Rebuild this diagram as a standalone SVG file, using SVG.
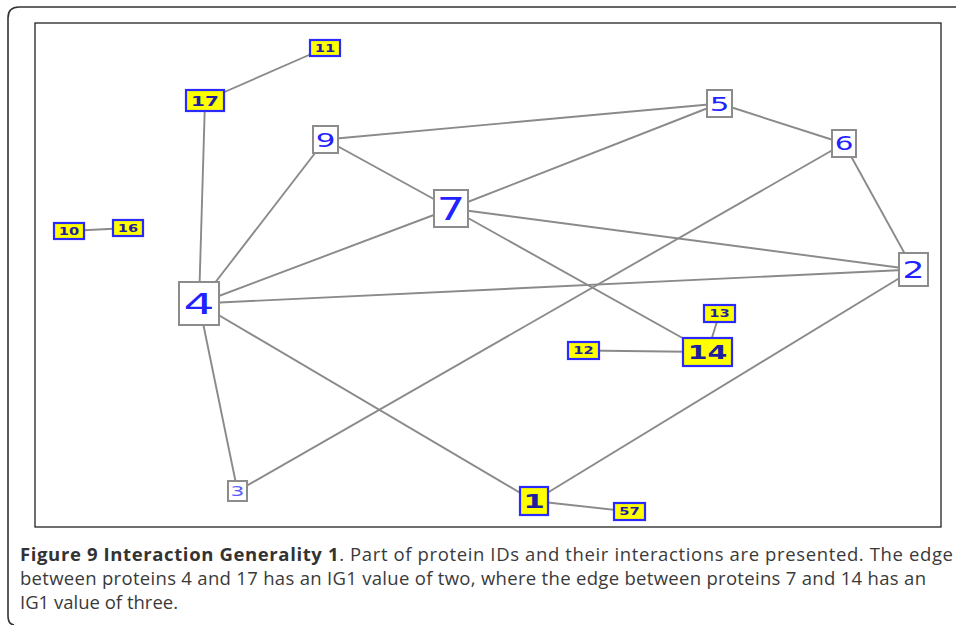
<svg xmlns="http://www.w3.org/2000/svg" width="956" height="625" viewBox="0 0 956 625">
<style>
.frame{fill:none;stroke:#333;stroke-width:1.6}
.inner{fill:#fff;stroke:#222;stroke-width:1.3}
.edge{stroke:#8a8a8a;stroke-width:1.9;fill:none}
.wn{fill:#fff;stroke:#8c8c8c;stroke-width:2}
.yn{fill:#ffff00;stroke:#2a2aff;stroke-width:2.2}
.wt{font-family:"DejaVu Sans",Verdana,sans-serif;fill:#2222ff;text-anchor:middle}
.yt{font-family:"DejaVu Sans",Verdana,sans-serif;font-weight:bold;fill:#1f1f9e;text-anchor:middle}
.cap{font-family:"Open Sans","Liberation Sans",sans-serif;font-size:18.5px;fill:#3a3a3a}
.capb{font-weight:bold;fill:#333}
</style>
<path class="frame" d="M14 625 Q8 624 8 616 V18 Q8 7 19 7 H956"/>
<rect class="inner" x="35" y="23" width="906" height="504"/>
<g id="connectors">
<line class="edge" x1="205" y1="100.5" x2="325" y2="48"/>
<line class="edge" x1="205" y1="100.5" x2="199" y2="303.5"/>
<line class="edge" x1="69" y1="231" x2="128" y2="228"/>
<line class="edge" x1="325.5" y1="139.5" x2="199" y2="303.5"/>
<line class="edge" x1="325.5" y1="139.5" x2="719.5" y2="103.5"/>
<line class="edge" x1="325.5" y1="139.5" x2="451" y2="208.5"/>
<line class="edge" x1="451" y1="208.5" x2="719.5" y2="103.5"/>
<line class="edge" x1="451" y1="208.5" x2="199" y2="303.5"/>
<line class="edge" x1="451" y1="208.5" x2="913.5" y2="269.5"/>
<line class="edge" x1="451" y1="208.5" x2="707.5" y2="352"/>
<line class="edge" x1="719.5" y1="103.5" x2="844" y2="143.5"/>
<line class="edge" x1="844" y1="143.5" x2="913.5" y2="269.5"/>
<line class="edge" x1="844" y1="143.5" x2="237.5" y2="491"/>
<line class="edge" x1="199" y1="303.5" x2="913.5" y2="269.5"/>
<line class="edge" x1="199" y1="303.5" x2="534" y2="501"/>
<line class="edge" x1="199" y1="303.5" x2="237.5" y2="491"/>
<line class="edge" x1="913.5" y1="269.5" x2="534" y2="501"/>
<line class="edge" x1="707.5" y1="352" x2="719.5" y2="313.5"/>
<line class="edge" x1="707.5" y1="352" x2="583.5" y2="350.5"/>
<line class="edge" x1="534" y1="501" x2="629.5" y2="511.5"/>
</g>
<g id="n11"><rect class="yn" x="310" y="40" width="30" height="16"/><text class="yt" font-size="10.5" transform="translate(325,51.8) scale(1.4,1)">11</text></g>
<g id="n17"><rect class="yn" x="186" y="90" width="38" height="21"/><text class="yt" font-size="14.6" transform="translate(205,105.8) scale(1.37,1)">17</text></g>
<g id="n10"><rect class="yn" x="54" y="223" width="30" height="16"/><text class="yt" font-size="10.5" transform="translate(69,234.8) scale(1.4,1)">10</text></g>
<g id="n16"><rect class="yn" x="113" y="220" width="30" height="16"/><text class="yt" font-size="10.5" transform="translate(128,231.8) scale(1.4,1)">16</text></g>
<g id="n9"><rect class="wn" x="313" y="126" width="25" height="27"/><text class="wt" font-size="20" transform="translate(325.5,146.8) scale(1.55,1)">9</text></g>
<g id="n5"><rect class="wn" x="707" y="90" width="25" height="27"/><text class="wt" font-size="20" transform="translate(719.5,110.8) scale(1.55,1)">5</text></g>
<g id="n6"><rect class="wn" x="832" y="130" width="24" height="27"/><text class="wt" font-size="19" transform="translate(844,150.4) scale(1.55,1)">6</text></g>
<g id="n7"><rect class="wn" x="434" y="190" width="34" height="37"/><text class="wt" font-size="32" transform="translate(451,220.2) scale(1.4,1)">7</text></g>
<g id="n2"><rect class="wn" x="899" y="253" width="29" height="33"/><text class="wt" font-size="23" transform="translate(913.5,277.9) scale(1.5,1)">2</text></g>
<g id="n4"><rect class="wn" x="179" y="282" width="40" height="43"/><text class="wt" font-size="29" transform="translate(199,314.1) scale(1.68,1)">4</text></g>
<g id="n13"><rect class="yn" x="704" y="305" width="31" height="17"/><text class="yt" font-size="10.5" transform="translate(719.5,317.3) scale(1.4,1)">13</text></g>
<g id="n14"><rect class="yn" x="683" y="338" width="49" height="28"/><text class="yt" font-size="19" transform="translate(707.5,358.9) scale(1.5,1)">14</text></g>
<g id="n12"><rect class="yn" x="568" y="342" width="31" height="17"/><text class="yt" font-size="10.5" transform="translate(583.5,354.3) scale(1.4,1)">12</text></g>
<g id="n3"><rect class="wn" x="228" y="481" width="19" height="20"/><text class="wt" font-size="14.5" style="fill:#5a5aff" transform="translate(237.5,496.3) scale(1.5,1)">3</text></g>
<g id="n1"><rect class="yn" x="520" y="487" width="28" height="28"/><text class="yt" font-size="19.5" transform="translate(534,508.1) scale(1.6,1)">1</text></g>
<g id="n57"><rect class="yn" x="614" y="503" width="31" height="17"/><text class="yt" font-size="10.5" transform="translate(629.5,515.3) scale(1.4,1)">57</text></g>
<g id="caption">
<text class="cap" x="20" y="561" textLength="933" lengthAdjust="spacing"><tspan class="capb">Figure 9 Interaction Generality 1</tspan>. Part of protein IDs and their interactions are presented. The edge</text>
<text class="cap" x="20" y="585" textLength="906" lengthAdjust="spacing">between proteins 4 and 17 has an IG1 value of two, where the edge between proteins 7 and 14 has an</text>
<text class="cap" x="20" y="609">IG1 value of three.</text>
</g>
</svg>
